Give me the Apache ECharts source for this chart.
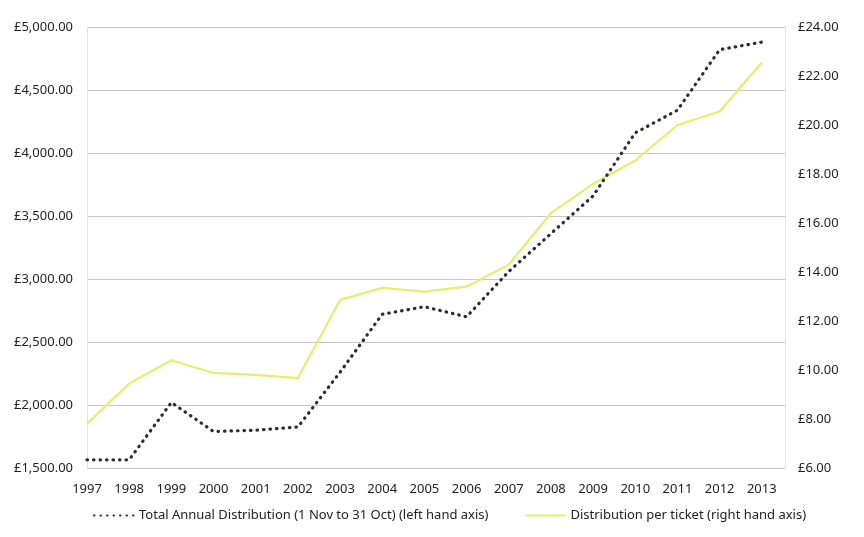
<!DOCTYPE html>
<html>
<head>
<meta charset="utf-8">
<script src="https://cdn.jsdelivr.net/npm/echarts@6/dist/echarts.min.js"></script>
<style>
html,body{margin:0;padding:0;background:#fff;}
#chart{width:864px;height:537px;}
</style>
</head>
<body>
<div id="chart"></div>
<script>
var years = [1997,1998,1999,2000,2001,2002,2003,2004,2005,2006,2007,2008,2009,2010,2011,2012,2013];
var totalAnnual = [1565,1565,2020,1790,1800,1825,2260,2720,2780,2700,3060,3360,3660,4160,4340,4820,4880];
var perTicket = [7.8,9.45,10.4,9.88,9.8,9.67,12.86,13.35,13.2,13.4,14.3,16.4,17.6,18.55,20.0,20.55,22.55];
var leftTicks = {min:1500, max:5000, interval:500};
var rightTicks = {min:6, max:24, interval:2};
var seriesNames = ['Total Annual Distribution (1 Nov to 31 Oct) (left hand axis)', 'Distribution per ticket (right hand axis)'];

function money(v){
  var s = v.toFixed(2);
  var parts = s.split('.');
  parts[0] = parts[0].replace(/\B(?=(\d{3})+(?!\d))/g, ',');
  return '\u00a3' + parts.join('.');
}

var font = 'Noto Sans';
var chart = echarts.init(document.getElementById('chart'));
chart.setOption({
  animation:false,
  backgroundColor:'#ffffff',
  grid:{left:87, right:79, top:27, bottom:69},
  legend:{
    bottom:10, left:88, itemGap:36, itemWidth:40, itemHeight:8,
    itemStyle:{opacity:0},
    textStyle:{fontFamily:font, fontSize:13, color:'#222'},
    data:seriesNames
  },
  xAxis:{
    type:'value', min:1997, max:2013.55, interval:1,
    axisLine:{show:false}, axisTick:{show:false}, splitLine:{show:false},
    axisLabel:{
      showMaxLabel:false, margin:15,
      fontFamily:font, fontSize:13, color:'#222',
      formatter:function(v){ return Math.abs(v-Math.round(v))<1e-6 ? String(Math.round(v)) : ''; }
    }
  },
  yAxis:[{
    type:'value', min:leftTicks.min, max:leftTicks.max, interval:leftTicks.interval,
    axisLine:{show:true, lineStyle:{color:'#e4e4e4'}}, axisTick:{show:false},
    splitLine:{lineStyle:{color:'#c8c8c8', width:1}},
    axisLabel:{margin:14, fontFamily:font, fontSize:13, color:'#222', formatter:money}
  },{
    type:'value', min:rightTicks.min, max:rightTicks.max, interval:rightTicks.interval,
    position:'right',
    axisLine:{show:true, lineStyle:{color:'#e4e4e4'}}, axisTick:{show:false},
    splitLine:{show:false},
    axisLabel:{margin:13, fontFamily:font, fontSize:13, color:'#222', formatter:money}
  }],
  series:[{
    name:seriesNames[0], type:'line', yAxisIndex:0, symbol:'none', smooth:false,
    data:years.map(function(y,i){return [y,totalAnnual[i]];}),
    lineStyle:{color:'#2b2b33', width:3.2, type:[0.5,6], cap:'round'},
    itemStyle:{color:'#2b2b33'},
    z:3
  },{
    name:seriesNames[1], type:'line', yAxisIndex:1, symbol:'none',
    data:years.map(function(y,i){return [y,perTicket[i]];}),
    lineStyle:{color:'#e2ef6e', width:2.2},
    itemStyle:{color:'#e2ef6e'},
    z:2
  }]
});
</script>
</body>
</html>
